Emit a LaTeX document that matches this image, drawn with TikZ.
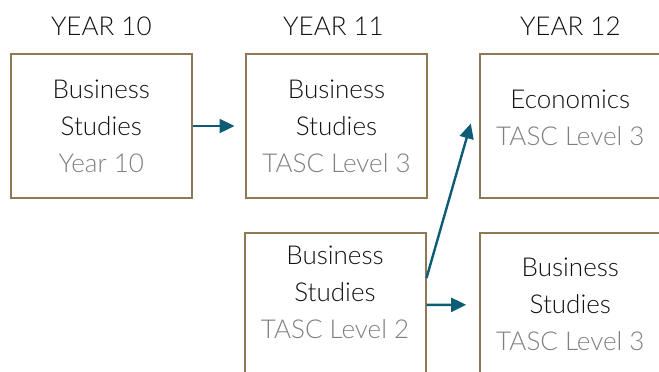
\documentclass[tikz,border=0pt]{standalone}
\usepackage{fontspec}
\setmainfont{Lato Light}
\usepackage{xcolor}
\usetikzlibrary{arrows.meta,positioning}
\definecolor{boxline}{HTML}{8F7954}
\definecolor{arrowcol}{HTML}{0D5C75}
\definecolor{subgray}{HTML}{808080}
\definecolor{maintext}{HTML}{111111}

\begin{document}
\begin{tikzpicture}[x=1pt,y=-1pt,
  course/.style={draw=boxline, line width=2pt, minimum width=181pt, minimum height=144pt, inner sep=0pt},
  txt/.style={align=center, inner sep=0pt, text=maintext, font=\fontsize{26}{37}\selectfont},
  yr/.style={inner sep=0pt, text=maintext, font=\fontsize{26}{37}\selectfont},
  arr/.style={draw=arrowcol, line width=2.4pt, -{Triangle[length=15pt,width=14pt]}}]
\useasboundingbox (0,0) rectangle (659,372);
\clip (0,0) rectangle (659,372);
\node[course] (b1) at (101.3,126) {};
\node[course] (b2) at (336.5,126) {};
\node[course] (b3) at (570.3,126) {};
\node[course] (b4) at (335,305) {};
\node[course] (b5) at (570.3,304.7) {};
\node[yr, above=17pt of b1] (y10) {YEAR 10};
\node[yr, above=17pt of b2, xshift=-3pt] (y11) {YEAR 11};
\node[yr, above=17pt of b3] (y12) {YEAR 12};
\node[txt] (t1) at (b1.center) {Business\\Studies\\\textcolor{subgray}{Year 10}};
\node[txt] (t2) at (b2.center) {Business\\Studies\\\textcolor{subgray}{TASC Level 3}};
\node[txt] (t3) at ([yshift=8.5pt]b3.center) {Economics\\\textcolor{subgray}{TASC Level 3}};
\node[txt] (t4) at ([yshift=12.5pt]b4.center) {Business\\Studies\\\textcolor{subgray}{TASC Level 2}};
\node[txt] (t5) at (b5.center) {Business\\Studies\\\textcolor{subgray}{TASC Level 3}};
\draw[arr, shorten >=10.5pt] (b1) -- (b2);
\draw[arr, shorten >=12.6pt] (b4) -- (b5);
\draw[arr] ([yshift=27pt]b4.east) -- ([xshift=-8pt,yshift=2.5pt]b3.west);
\end{tikzpicture}
\end{document}
